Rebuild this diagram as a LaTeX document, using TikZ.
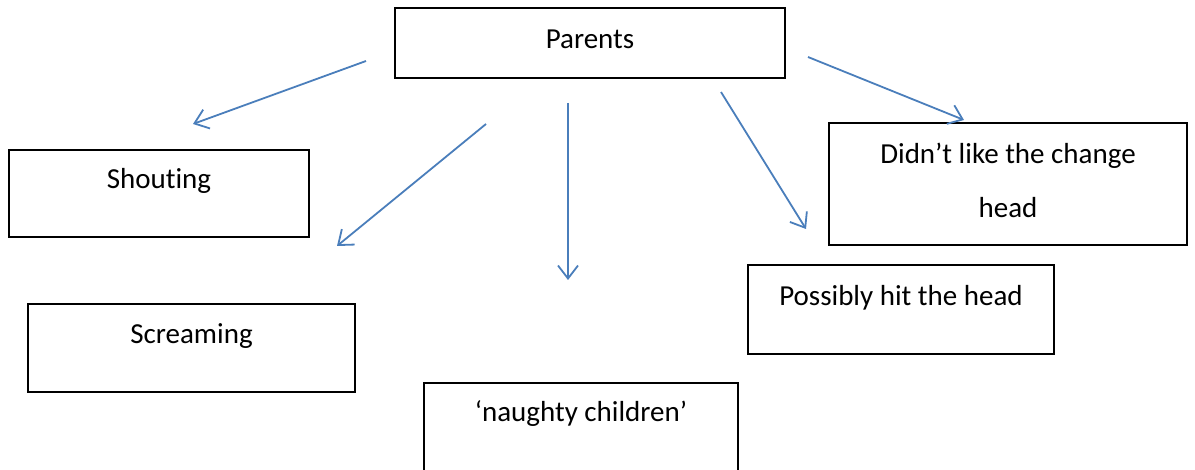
\documentclass[tikz,border=0pt]{standalone}
\usepackage{fontspec}
\setmainfont{Carlito}[Ligatures=NoCommon]
\usetikzlibrary{arrows.meta}
\definecolor{lineblue}{HTML}{4A7EBB}
\begin{document}
\begin{tikzpicture}[x=0.5pt,y=-0.5pt,
	box/.style={draw=black,line width=1pt,inner sep=0pt,font=\fontsize{14.5}{27}\selectfont,align=center},
	arr/.style={draw=lineblue,line width=0.9pt,-{Straight Barb[length=6.5pt,width=10pt]}}]
	    \clip (0,0) rectangle (1195,470);
	    \node[box,minimum width=195pt,text height=20.5pt,text depth=14.5pt] (parents) at (590,43) {Parents};
	    \node[box,minimum width=150pt,text height=19.5pt,text depth=24pt] (shouting) at (159,193.5) {Shouting};
	    \node[box,minimum width=163.5pt,text height=20pt,text depth=24pt] (screaming) at (191.5,348) {Screaming};
	    \node[box,minimum width=157pt,text height=19.5pt,text depth=25.5pt] (naughty) at (581,428) {‘naughty children’};
	    \node[box,minimum width=153pt,text height=20.5pt,text depth=24pt] (possibly) at (901,309.5) {Possibly hit the head};
	    \node[box,minimum width=179pt,text height=47.5pt,text depth=13.5pt] (change) at (1008,184) {Didn’t like the change\\head};
	    \coordinate (s1) at (366,61);  \coordinate (e1) at (193,124);
	    \coordinate (s2) at (486,124); \coordinate (e2) at (337,246);
	    \coordinate (s3) at (568,103); \coordinate (e3) at (568,280);
	    \coordinate (s4) at (721,92);  \coordinate (e4) at (806,229);
	    \coordinate (s5) at (808,57);  \coordinate (e5) at (964,120);
	    \draw[arr] (s1)--(e1);
	    \draw[arr] (s2)--(e2);
	    \draw[arr] (s3)--(e3);
	    \draw[arr] (s4)--(e4);
	    \draw[arr] (s5)--(e5);
\end{tikzpicture}
\end{document}
